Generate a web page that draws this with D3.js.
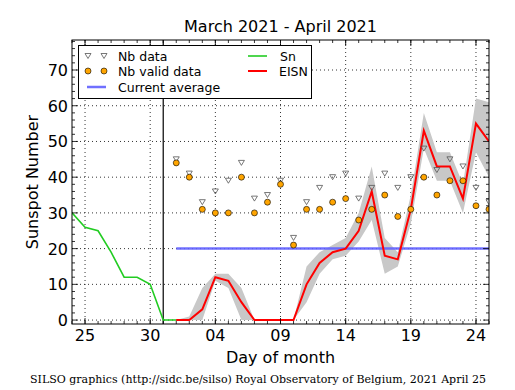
<!DOCTYPE html>
<html>
<head>
<meta charset="utf-8">
<script src="https://cdn.jsdelivr.net/npm/d3@7"></script>
<style>
  body { margin: 0; background: #fff; }
  text { font-family: "DejaVu Sans", sans-serif; }
</style>
</head>
<body>
<div class="container"></div>
<script>
"use strict";

var width = 515;
var height = 390;

// Daily values
var snStart = new Date(Date.UTC(2021, 2, 24));   // 24 March
var snValues = [30, 26, 25, 19, 12, 12, 10, 0, 0];

var eisnStart = new Date(Date.UTC(2021, 3, 1));  // 1 April
var eisnValues = [0, 0, 3, 12, 11, 5, 0, 0, 0, 0, 10, 16, 19, 20, 25, 36, 18, 17, 31, 53, 43, 43, 34, 55, 50];
var eisnLow =    [0, 0, 0, 11, 9, 0, 0, 0, 0, 0, 5, 13, 17, 18, 22, 28, 13, 15, 27, 48, 39, 39, 30, 47, 40];
var eisnHigh =   [0, 1, 9, 13, 13, 9, 0, 0, 0, 0, 15, 19, 21, 23, 30, 43, 23, 19, 35, 58, 47, 47, 38, 62, 61];
var nbData =     [45, 41, 33, 36, 39, 44, 34, 35, 39, 23, 33, 37, 40, 41, 34, 37, 41, 37, 40, 48, 42, 45, 43, 37, 33];
var nbValid =    [44, 40, 31, 30, 30, 40, 30, 33, 38, 21, 31, 31, 33, 34, 28, 31, 35, 29, 31, 40, 35, 39, 39, 32, 31];

var currentAverage = 20;
var monthMark = new Date(Date.UTC(2021, 2, 31));

var xTickDates = [[2, 25], [2, 30], [3, 4], [3, 9], [3, 14], [3, 19], [3, 24]];
var yTicks = [0, 10, 20, 30, 40, 50, 60, 70];

function dayAfter(start, i) {
    return d3.utcDay.offset(start, i);
}

var sn = snValues.map((v, i) => ({date: dayAfter(snStart, i), value: v}));
var eisn = eisnValues.map((v, i) => ({
    date: dayAfter(eisnStart, i), value: v,
    low: eisnLow[i], high: eisnHigh[i],
    nb: nbData[i], valid: nbValid[i]
}));

var pLeft = 72, pRight = 489, pTop = 40, pBottom = 324;

var x = d3.scaleUtc()
    .domain([new Date(Date.UTC(2021, 2, 24)), new Date(Date.UTC(2021, 3, 25))])
    .range([pLeft, pRight]);
var y = d3.scaleLinear()
    .domain([-1.1, 78.4])
    .range([pBottom, pTop]);

var svg = d3.select(".container").append("svg")
    .attr("width", width)
    .attr("height", height);

svg.append("defs").append("clipPath")
    .attr("id", "plot")
    .append("rect")
    .attr("x", pLeft).attr("y", pTop)
    .attr("width", pRight - pLeft).attr("height", pBottom - pTop);

// Grid (dotted, at major ticks)
var grid = svg.append("g").attr("stroke", "#000").attr("stroke-width", 0.8)
    .attr("stroke-dasharray", "1,3");
xTickDates.forEach(function(d) {
    var xx = x(new Date(Date.UTC(2021, d[0], d[1])));
    grid.append("line").attr("x1", xx).attr("x2", xx).attr("y1", pTop).attr("y2", pBottom);
});
yTicks.forEach(function(t) {
    grid.append("line").attr("x1", pLeft).attr("x2", pRight).attr("y1", y(t)).attr("y2", y(t));
});

var plot = svg.append("g").attr("clip-path", "url(#plot)");

// Uncertainty band around EISN
plot.append("path")
    .datum(eisn)
    .attr("fill", "#c8c8c8")
    .attr("d", d3.area()
        .x(d => x(d.date))
        .y0(d => y(d.low))
        .y1(d => y(d.high)));

// Month separator
plot.append("line")
    .attr("x1", x(monthMark)).attr("x2", x(monthMark))
    .attr("y1", pTop).attr("y2", pBottom)
    .attr("stroke", "#000").attr("stroke-width", 1.2);

// Current average
plot.append("line")
    .attr("x1", x(eisnStart)).attr("x2", pRight)
    .attr("y1", y(currentAverage)).attr("y2", y(currentAverage))
    .attr("stroke", "#6060ff").attr("stroke-opacity", 0.9).attr("stroke-width", 2.5);

var line = d3.line().x(d => x(d.date)).y(d => y(d.value));

plot.append("path")
    .datum(sn)
    .attr("fill", "none")
    .attr("stroke", "#22cc22")
    .attr("stroke-width", 1.6)
    .attr("d", line);

plot.append("path")
    .datum(eisn)
    .attr("fill", "none")
    .attr("stroke", "#ff0000")
    .attr("stroke-width", 2)
    .attr("d", line);

var triangle = "M-3,-2.5L3,-2.5L0,2.5Z";

plot.selectAll(".nb")
    .data(eisn)
    .enter().append("path")
    .attr("class", "nb")
    .attr("d", triangle)
    .attr("transform", d => `translate(${x(d.date)},${y(d.nb)})`)
    .attr("fill", "none")
    .attr("stroke", "#555")
    .attr("stroke-width", 0.8);

plot.selectAll(".valid")
    .data(eisn)
    .enter().append("circle")
    .attr("class", "valid")
    .attr("cx", d => x(d.date))
    .attr("cy", d => y(d.valid))
    .attr("r", 3)
    .attr("fill", "#ffa500")
    .attr("stroke", "#000")
    .attr("stroke-width", 0.6);

// Frame and ticks (inward, on all four sides)
var ticks = svg.append("g").attr("stroke", "#000").attr("stroke-width", 0.8);
d3.utcDays(x.domain()[0], d3.utcDay.offset(x.domain()[1], 1)).forEach(function(d) {
    var xx = x(d);
    ticks.append("line").attr("x1", xx).attr("x2", xx).attr("y1", pBottom).attr("y2", pBottom - 3);
    ticks.append("line").attr("x1", xx).attr("x2", xx).attr("y1", pTop).attr("y2", pTop + 3);
});
xTickDates.forEach(function(d) {
    var xx = x(new Date(Date.UTC(2021, d[0], d[1])));
    ticks.append("line").attr("x1", xx).attr("x2", xx).attr("y1", pBottom).attr("y2", pBottom - 6);
    ticks.append("line").attr("x1", xx).attr("x2", xx).attr("y1", pTop).attr("y2", pTop + 6);
});
d3.range(0, 79, 2).forEach(function(t) {
    var len = t % 10 === 0 ? 6 : 3;
    ticks.append("line").attr("x1", pLeft).attr("x2", pLeft + len).attr("y1", y(t)).attr("y2", y(t));
    ticks.append("line").attr("x1", pRight).attr("x2", pRight - len).attr("y1", y(t)).attr("y2", y(t));
});

svg.append("rect")
    .attr("x", pLeft).attr("y", pTop)
    .attr("width", pRight - pLeft).attr("height", pBottom - pTop)
    .attr("fill", "none").attr("stroke", "#000").attr("stroke-width", 1);

// Tick labels
var fmt = d3.utcFormat("%d");
svg.selectAll(".xlabel")
    .data(xTickDates)
    .enter().append("text")
    .attr("x", d => x(new Date(Date.UTC(2021, d[0], d[1]))))
    .attr("y", 341)
    .attr("text-anchor", "middle")
    .attr("font-size", 16)
    .text(d => fmt(new Date(Date.UTC(2021, d[0], d[1]))));

svg.selectAll(".ylabel")
    .data(yTicks)
    .enter().append("text")
    .attr("x", 68)
    .attr("y", d => y(d) + 6)
    .attr("text-anchor", "end")
    .attr("font-size", 16)
    .text(d => d);

svg.append("text")
    .attr("x", (pLeft + pRight) / 2).attr("y", 32)
    .attr("text-anchor", "middle").attr("font-size", 16)
    .text("March 2021 - April 2021");

svg.append("text")
    .attr("x", (pLeft + pRight) / 2).attr("y", 363)
    .attr("text-anchor", "middle").attr("font-size", 16)
    .text("Day of month");

svg.append("text")
    .attr("transform", `translate(38,${(pTop + pBottom) / 2}) rotate(-90)`)
    .attr("text-anchor", "middle").attr("font-size", 16)
    .text("Sunspot Number");

svg.append("text")
    .attr("x", 258).attr("y", 383)
    .attr("text-anchor", "middle").attr("font-size", 11)
    .style("font-family", "'DejaVu Serif', serif")
    .text("SILSO graphics (http://sidc.be/silso) Royal Observatory of Belgium, 2021 April 25");

// Legend
var legend = svg.append("g");
legend.append("rect")
    .attr("x", 78.5).attr("y", 45.5).attr("width", 233).attr("height", 53)
    .attr("fill", "#fff").attr("stroke", "#000").attr("stroke-width", 1);

[88, 104].forEach(function(lx) {
    legend.append("path").attr("d", triangle)
        .attr("transform", `translate(${lx},56)`)
        .attr("fill", "none").attr("stroke", "#555").attr("stroke-width", 0.8);
    legend.append("circle").attr("cx", lx).attr("cy", 71).attr("r", 3)
        .attr("fill", "#ffa500").attr("stroke", "#000").attr("stroke-width", 0.6);
});
legend.append("line").attr("x1", 87).attr("x2", 106).attr("y1", 87).attr("y2", 87)
    .attr("stroke", "#6060ff").attr("stroke-opacity", 0.9).attr("stroke-width", 2.5);
legend.append("line").attr("x1", 248).attr("x2", 267).attr("y1", 56).attr("y2", 56)
    .attr("stroke", "#22cc22").attr("stroke-width", 1.6);
legend.append("line").attr("x1", 248).attr("x2", 267).attr("y1", 71).attr("y2", 71)
    .attr("stroke", "#ff0000").attr("stroke-width", 2);

var legendText = [
    {x: 118, y: 61, t: "Nb data"},
    {x: 118, y: 76, t: "Nb valid data"},
    {x: 118, y: 92, t: "Current average"},
    {x: 280, y: 61, t: "Sn"},
    {x: 279, y: 76, t: "EISN"}
];
legend.selectAll(".lt")
    .data(legendText)
    .enter().append("text")
    .attr("x", d => d.x).attr("y", d => d.y)
    .attr("font-size", 12.5)
    .text(d => d.t);
</script>
</body>
</html>
